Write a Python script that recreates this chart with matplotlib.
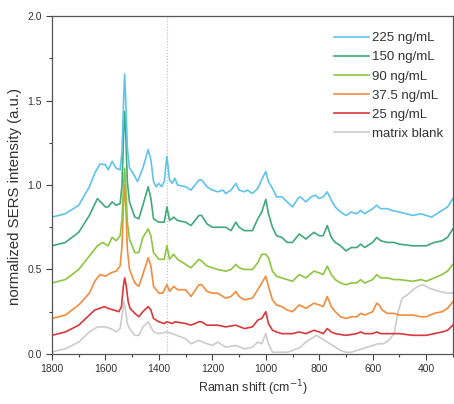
import matplotlib
matplotlib.use("Agg")
import matplotlib.pyplot as plt
from matplotlib.ticker import MultipleLocator

plt.rcParams['font.family'] = ['Liberation Sans', 'DejaVu Sans']

labels = ["225 ng/mL", "150 ng/mL", "90 ng/mL", "37.5 ng/mL", "25 ng/mL", "matrix blank"]
colors = ["#5ec4ea", "#3fa97c", "#8dc63f", "#f28c3e", "#d8383a", "#cccccc"]

x225 = [1800, 1750, 1700, 1660, 1640, 1620, 1600, 1590, 1575, 1560, 1545, 1538, 1532, 1528, 1524, 1518,
        1510, 1500, 1480, 1460, 1440, 1430, 1420, 1410, 1400, 1390, 1380, 1370, 1360, 1350, 1340, 1330,
        1300, 1280, 1250, 1240, 1220, 1200, 1180, 1160, 1150, 1130, 1112, 1100, 1080, 1070, 1050, 1030,
        1010, 1000, 990, 975, 960, 940, 920, 900, 880, 870, 850, 830, 815, 800, 785, 770, 755, 740, 720,
        700, 680, 660, 645, 630, 600, 585, 570, 545, 530, 500, 450, 420, 400, 380, 350, 320, 300]
y225 = [0.81, 0.83, 0.88, 0.99, 1.07, 1.125, 1.12, 1.09, 1.14, 1.10, 1.09, 1.20, 1.50, 1.657, 1.50, 1.22,
        1.10, 1.08, 1.02, 1.10, 1.21, 1.15, 1.02, 0.99, 1.01, 0.99, 1.02, 1.17, 1.03, 1.01, 1.04, 1.00,
        0.99, 0.97, 1.03, 1.03, 0.99, 0.97, 0.96, 0.97, 0.95, 0.97, 1.01, 0.97, 0.96, 0.97, 0.95, 0.98,
        1.05, 1.08, 1.02, 0.98, 0.93, 0.93, 0.90, 0.87, 0.92, 0.93, 0.90, 0.93, 0.94, 0.92, 0.93, 0.96,
        0.91, 0.87, 0.84, 0.82, 0.84, 0.83, 0.85, 0.83, 0.86, 0.88, 0.86, 0.86, 0.85, 0.84, 0.82, 0.83,
        0.82, 0.81, 0.84, 0.87, 0.92]

x150 = [1800, 1750, 1700, 1660, 1630, 1600, 1590, 1575, 1560, 1545, 1538, 1532, 1528, 1524, 1518, 1510,
        1490, 1475, 1460, 1440, 1430, 1420, 1400, 1380, 1370, 1360, 1345, 1330, 1300, 1280, 1250, 1240,
        1220, 1200, 1180, 1150, 1130, 1112, 1100, 1080, 1050, 1030, 1015, 1000, 990, 975, 960, 940, 920,
        900, 875, 850, 820, 800, 785, 770, 755, 740, 720, 700, 680, 660, 645, 630, 600, 585, 570, 545,
        520, 500, 450, 400, 370, 340, 320, 300]
y150 = [0.64, 0.66, 0.72, 0.82, 0.92, 0.87, 0.87, 0.90, 0.88, 0.89, 1.00, 1.30, 1.435, 1.30, 1.02, 0.90,
        0.81, 0.80, 0.88, 0.99, 0.92, 0.80, 0.78, 0.78, 0.87, 0.79, 0.81, 0.79, 0.78, 0.76, 0.82, 0.82,
        0.77, 0.75, 0.75, 0.75, 0.73, 0.78, 0.75, 0.73, 0.73, 0.80, 0.84, 0.915, 0.83, 0.75, 0.70, 0.69,
        0.66, 0.66, 0.71, 0.68, 0.72, 0.70, 0.70, 0.76, 0.69, 0.66, 0.64, 0.61, 0.63, 0.63, 0.65, 0.63,
        0.66, 0.69, 0.67, 0.66, 0.66, 0.65, 0.64, 0.64, 0.66, 0.67, 0.69, 0.74]

x90 = [1800, 1750, 1700, 1660, 1630, 1610, 1590, 1575, 1560, 1545, 1538, 1532, 1528, 1524, 1518, 1510,
       1490, 1475, 1460, 1440, 1430, 1420, 1400, 1380, 1370, 1360, 1345, 1330, 1300, 1280, 1250, 1240,
       1220, 1200, 1180, 1150, 1130, 1112, 1100, 1080, 1050, 1030, 1015, 1000, 990, 975, 960, 940, 920,
       900, 875, 850, 820, 800, 785, 770, 755, 740, 720, 700, 680, 660, 645, 630, 600, 585, 570, 545,
       520, 500, 450, 420, 400, 370, 340, 320, 300]
y90 = [0.42, 0.44, 0.50, 0.58, 0.64, 0.66, 0.64, 0.69, 0.67, 0.70, 0.80, 1.00, 1.10, 1.00, 0.78, 0.68,
       0.60, 0.60, 0.69, 0.74, 0.70, 0.60, 0.56, 0.56, 0.64, 0.56, 0.59, 0.56, 0.53, 0.51, 0.56, 0.55,
       0.52, 0.51, 0.50, 0.49, 0.50, 0.53, 0.51, 0.50, 0.50, 0.54, 0.59, 0.59, 0.57, 0.49, 0.46, 0.45,
       0.44, 0.43, 0.47, 0.45, 0.49, 0.48, 0.47, 0.52, 0.47, 0.44, 0.42, 0.41, 0.42, 0.42, 0.44, 0.42,
       0.44, 0.47, 0.45, 0.45, 0.44, 0.44, 0.43, 0.44, 0.43, 0.45, 0.47, 0.49, 0.53]

x37 = [1800, 1750, 1700, 1660, 1640, 1620, 1600, 1580, 1560, 1545, 1538, 1532, 1528, 1524, 1518, 1510,
       1490, 1475, 1460, 1440, 1430, 1420, 1400, 1385, 1370, 1360, 1345, 1330, 1300, 1280, 1250, 1240,
       1220, 1200, 1180, 1150, 1130, 1112, 1100, 1080, 1050, 1030, 1015, 1000, 990, 975, 960, 940, 920,
       900, 875, 850, 820, 800, 785, 770, 755, 740, 720, 700, 680, 660, 645, 630, 600, 585, 575, 565,
       545, 520, 500, 450, 420, 400, 370, 340, 320, 300]
y37 = [0.21, 0.23, 0.29, 0.36, 0.43, 0.47, 0.46, 0.48, 0.49, 0.52, 0.64, 0.90, 1.00, 0.88, 0.62, 0.50,
       0.42, 0.40, 0.47, 0.57, 0.52, 0.40, 0.36, 0.36, 0.41, 0.37, 0.40, 0.38, 0.38, 0.34, 0.41, 0.41,
       0.37, 0.36, 0.36, 0.33, 0.34, 0.37, 0.34, 0.32, 0.33, 0.38, 0.42, 0.46, 0.40, 0.32, 0.29, 0.28,
       0.26, 0.25, 0.29, 0.27, 0.30, 0.29, 0.28, 0.34, 0.28, 0.25, 0.22, 0.21, 0.22, 0.22, 0.24, 0.23,
       0.25, 0.30, 0.29, 0.26, 0.24, 0.24, 0.23, 0.23, 0.22, 0.22, 0.24, 0.25, 0.27, 0.31]

x25 = [1800, 1750, 1700, 1660, 1640, 1620, 1605, 1590, 1570, 1550, 1540, 1533, 1528, 1522, 1515, 1508,
       1490, 1475, 1460, 1440, 1430, 1420, 1400, 1380, 1370, 1350, 1340, 1300, 1280, 1250, 1240, 1220,
       1200, 1180, 1150, 1112, 1080, 1050, 1030, 1015, 1000, 990, 975, 960, 940, 900, 875, 850, 820, 800,
       785, 770, 755, 740, 700, 660, 645, 630, 600, 585, 570, 545, 500, 450, 400, 370, 340, 320, 300]
y25 = [0.11, 0.13, 0.17, 0.23, 0.26, 0.27, 0.28, 0.27, 0.26, 0.25, 0.28, 0.40, 0.45, 0.40, 0.31, 0.27,
       0.24, 0.22, 0.25, 0.28, 0.26, 0.21, 0.19, 0.18, 0.19, 0.18, 0.19, 0.18, 0.17, 0.19, 0.19, 0.17,
       0.17, 0.17, 0.16, 0.17, 0.15, 0.16, 0.20, 0.21, 0.25, 0.18, 0.14, 0.13, 0.12, 0.12, 0.13, 0.12,
       0.14, 0.13, 0.12, 0.15, 0.13, 0.12, 0.11, 0.12, 0.13, 0.12, 0.12, 0.13, 0.12, 0.12, 0.12, 0.11,
       0.11, 0.12, 0.13, 0.14, 0.17]

xblank = [1800, 1780, 1750, 1700, 1660, 1630, 1600, 1580, 1560, 1545, 1535, 1530, 1524, 1518, 1510, 1490,
          1475, 1460, 1440, 1430, 1420, 1400, 1370, 1350, 1300, 1280, 1250, 1220, 1200, 1180, 1150, 1112,
          1080, 1050, 1030, 1015, 1000, 990, 975, 950, 920, 900, 870, 850, 820, 810, 790, 770, 750, 720,
          700, 680, 660, 640, 620, 600, 580, 560, 540, 520, 505, 490, 470, 450, 430, 410, 390, 370, 350,
          320, 300]
yblank = [0.01, 0.02, 0.03, 0.07, 0.13, 0.16, 0.16, 0.15, 0.13, 0.15, 0.26, 0.31, 0.25, 0.18, 0.15, 0.11,
          0.11, 0.16, 0.19, 0.16, 0.13, 0.12, 0.13, 0.12, 0.09, 0.06, 0.08, 0.06, 0.05, 0.07, 0.04, 0.05,
          0.03, 0.04, 0.07, 0.06, 0.12, 0.06, 0.01, 0.01, 0.01, 0.02, 0.04, 0.07, 0.10, 0.11, 0.09, 0.07,
          0.05, 0.02, 0.01, 0.01, 0.02, 0.03, 0.04, 0.05, 0.06, 0.06, 0.08, 0.12, 0.25, 0.33, 0.35, 0.38,
          0.40, 0.41, 0.39, 0.38, 0.37, 0.36, 0.36]

marker_line = 1370

series = [(x225, y225), (x150, y150), (x90, y90), (x37, y37), (x25, y25), (xblank, yblank)]

fig = plt.figure(figsize=(4.54, 4.04), dpi=100)
ax = fig.add_axes([0.1145, 0.124, 0.883, 0.836])

ax.axvline(marker_line, color="#bbbbbb", linestyle=":", linewidth=0.8, zorder=0)

line_handles = {}
for (xs, ys), lab, col in reversed(list(zip(series, labels, colors))):
    ln, = ax.plot(xs, ys, color=col, linewidth=1.2, label=lab)
    line_handles[lab] = ln

ax.set_xlim(1800, 300)
ax.set_ylim(0, 2.0)
ax.xaxis.set_major_locator(MultipleLocator(200))
ax.xaxis.set_minor_locator(MultipleLocator(100))
ax.yaxis.set_major_locator(MultipleLocator(0.5))
ax.yaxis.set_minor_locator(MultipleLocator(0.25))
ax.yaxis.set_major_formatter(matplotlib.ticker.FormatStrFormatter('%.1f'))
ax.tick_params(which='both', direction='out', colors='#444444', labelcolor='#333333', labelsize=7.5)
ax.tick_params(which='major', length=4, width=0.8)
ax.tick_params(which='minor', length=2.5, width=0.8)
for s in ax.spines.values():
    s.set_color('#555555')
    s.set_linewidth(0.9)

ax.set_xlabel("Raman shift (cm$^{-1}$)", fontsize=9, color='#333333', labelpad=3)
ax.set_ylabel("normalized SERS intensity (a.u.)", fontsize=10.8, color='#333333')
ax.yaxis.set_label_coords(-0.075, 0.465)

leg = ax.legend([line_handles[l] for l in labels], labels, loc='upper right', frameon=False,
                fontsize=9.5, handlelength=2.6, handletextpad=0.25, labelspacing=0.52,
                borderaxespad=0.35, bbox_to_anchor=(1.0, 0.982))
for t in leg.get_texts():
    t.set_color('#333333')

fig.savefig("out.png", dpi=100)
